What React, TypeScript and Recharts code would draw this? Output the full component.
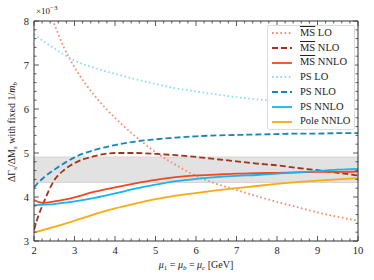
import { LineChart, Line, XAxis, YAxis, ReferenceArea, Label } from "recharts";

const FONT = "Liberation Serif, DejaVu Serif, serif";
const AXIS = "#333";

// mu values (GeV)
const mu = [2, 2.1, 2.25, 2.5, 2.75, 3, 3.5, 4, 4.5, 5, 5.5, 6, 6.5, 7, 7.5, 8, 8.5, 9, 9.5, 10];

// Delta Gamma_s / Delta M_s  (x 10^-3)
const msLO = [9.1, 8.85, 8.5, 7.93, 7.38, 6.95, 6.3, 5.8, 5.38, 5.02, 4.73, 4.48, 4.3, 4.16, 4.02, 3.89, 3.77, 3.65, 3.55, 3.46];
const msNLO = [3.25, 3.55, 3.9, 4.38, 4.62, 4.77, 4.93, 5.0, 5.0, 4.98, 4.95, 4.91, 4.86, 4.81, 4.76, 4.72, 4.66, 4.61, 4.55, 4.49];
const msNNLO = [3.93, 3.89, 3.87, 3.9, 3.94, 3.99, 4.12, 4.22, 4.31, 4.39, 4.45, 4.49, 4.51, 4.53, 4.54, 4.55, 4.56, 4.57, 4.57, 4.58];
const psLO = [7.7, 7.63, 7.53, 7.38, 7.23, 7.1, 6.93, 6.8, 6.68, 6.57, 6.47, 6.4, 6.33, 6.27, 6.22, 6.18, 6.15, 6.12, 6.1, 6.08];
const psNLO = [4.22, 4.32, 4.45, 4.62, 4.77, 4.9, 5.07, 5.18, 5.26, 5.31, 5.35, 5.38, 5.4, 5.41, 5.42, 5.43, 5.44, 5.44, 5.45, 5.45];
const psNNLO = [3.81, 3.82, 3.83, 3.84, 3.87, 3.9, 3.98, 4.08, 4.19, 4.28, 4.36, 4.41, 4.45, 4.48, 4.5, 4.53, 4.56, 4.59, 4.62, 4.64];
const poleNNLO = [3.2, 3.22, 3.26, 3.32, 3.39, 3.46, 3.61, 3.74, 3.85, 3.95, 4.03, 4.09, 4.15, 4.2, 4.25, 4.3, 4.34, 4.37, 4.4, 4.43];

// experimental band
const bandLow = 4.33;
const bandHigh = 4.91;

const minorTicks = (lo: number, hi: number) => {
  const out: number[] = [];
  for (let i = 0; i <= (hi - lo) * 5; i++) out.push(+(lo + i * 0.2).toFixed(2));
  return out;
};
const xTicks = minorTicks(2, 10);
const yTicks = minorTicks(3, 8);

const data = mu.map((x, i) => ({
  x,
  msLO: msLO[i],
  msNLO: msNLO[i],
  msNNLO: msNNLO[i],
  psLO: psLO[i],
  psNLO: psNLO[i],
  psNNLO: psNNLO[i],
  poleNNLO: poleNNLO[i],
}));

const series = [
  { key: "msLO", ms: true, name: "LO", color: "#f58a6c", dash: "1.6 2.6" },
  { key: "msNLO", ms: true, name: "NLO", color: "#a3311c", dash: "6 3" },
  { key: "msNNLO", ms: true, name: "NNLO", color: "#f2481b", dash: undefined },
  { key: "psLO", ms: false, name: "PS LO", color: "#8adcf8", dash: "1.6 2.6" },
  { key: "psNLO", ms: false, name: "PS NLO", color: "#1a84b8", dash: "6 3" },
  { key: "psNNLO", ms: false, name: "PS NNLO", color: "#16b4f0", dash: undefined },
  { key: "poleNNLO", ms: false, name: "Pole NNLO", color: "#fbaa10", dash: undefined },
];

const isMajor = (v: number) => Math.abs(v - Math.round(v)) < 1e-6;

const BottomTick = ({ x, y, payload }: any) => {
  const major = isMajor(payload.value);
  return (
    <g>
      <line x1={x} x2={x} y1={y} y2={y - (major ? 5 : 2.5)} stroke={AXIS} strokeWidth={0.8} />
      {major && (
        <text x={x} y={y + 13} textAnchor="middle" fontSize={10.5} fontFamily={FONT} fill="#222">
          {payload.value}
        </text>
      )}
    </g>
  );
};

const TopTick = ({ x, y, payload }: any) => {
  const major = isMajor(payload.value);
  return <line x1={x} x2={x} y1={y} y2={y + (major ? 5 : 2.5)} stroke={AXIS} strokeWidth={0.8} />;
};

const LeftTick = ({ x, y, payload }: any) => {
  const major = isMajor(payload.value);
  return (
    <g>
      <line x1={x} x2={x + (major ? 5 : 2.5)} y1={y} y2={y} stroke={AXIS} strokeWidth={0.8} />
      {major && (
        <text x={x - 5} y={y + 3.5} textAnchor="end" fontSize={10.5} fontFamily={FONT} fill="#222">
          {payload.value}
        </text>
      )}
    </g>
  );
};

const RightTick = ({ x, y, payload }: any) => {
  const major = isMajor(payload.value);
  return <line x1={x} x2={x - (major ? 5 : 2.5)} y1={y} y2={y} stroke={AXIS} strokeWidth={0.8} />;
};

const YTitle = () => (
  <g>
    <text
      transform="translate(15,132) rotate(-90)"
      textAnchor="middle"
      fontSize={10}
      fontFamily={FONT}
      fill="#222"
    >
      ΔΓ
      <tspan fontSize={7} dy={2}>s</tspan>
      <tspan dy={-2}>/ΔM</tspan>
      <tspan fontSize={7} dy={2} fontStyle="italic">s</tspan>
      <tspan dy={-2}> with fixed 1/</tspan>
      <tspan fontStyle="italic">m</tspan>
      <tspan fontSize={7} dy={2} fontStyle="italic">b</tspan>
    </text>
    <text x={36} y={14} fontSize={9} fontFamily={FONT} fill="#222">
      ×10
      <tspan fontSize={7} dy={-4}>−3</tspan>
    </text>
  </g>
);

const XTitle = () => (
  <text x={196} y={268} textAnchor="middle" fontSize={10} fontFamily={FONT} fill="#222">
    <tspan fontStyle="italic">μ</tspan>
    <tspan fontSize={7} dy={2}>1</tspan>
    <tspan dy={-2}> = </tspan>
    <tspan fontStyle="italic">μ</tspan>
    <tspan fontSize={7} dy={2} fontStyle="italic">b</tspan>
    <tspan dy={-2}> = </tspan>
    <tspan fontStyle="italic">μ</tspan>
    <tspan fontSize={7} dy={2} fontStyle="italic">c</tspan>
    <tspan dy={-2}> [GeV]</tspan>
  </text>
);

const LegendBox = () => (
  <div
    style={{
      position: "absolute",
      left: 267,
      top: 25,
      background: "rgba(255,255,255,0.85)",
      border: "1px solid #ddd",
      borderRadius: 2,
      padding: "0px 4px 0px 2px",
      fontFamily: FONT,
      fontSize: 10.5,
      color: "#222",
      lineHeight: "14.7px",
    }}
  >
    {series.map((s) => (
      <div key={s.key} style={{ display: "flex", alignItems: "center", whiteSpace: "nowrap" }}>
        <svg width={24} height={10} style={{ marginRight: 6 }}>
          <line x1={2} x2={22} y1={5} y2={5} stroke={s.color} strokeWidth={1.8} strokeDasharray={s.dash} />
        </svg>
        {s.ms ? (
          <span>
            <span style={{ textDecoration: "overline" }}>MS</span> {s.name}
          </span>
        ) : (
          <span>{s.name}</span>
        )}
      </div>
    ))}
  </div>
);

export default function App() {
  return (
    <div style={{ position: "absolute", left: 0, top: 0, width: 374, height: 280, background: "#fff" }}>
      <LineChart width={374} height={280} data={data} margin={{ top: 20, right: 15, bottom: 14, left: 0 }}>
        <XAxis
          dataKey="x"
          type="number"
          domain={[2, 10]}
          ticks={xTicks}
          interval={0}
          allowDataOverflow
          height={25}
          tickSize={0}
          tickMargin={0}
          tick={<BottomTick />}
          stroke={AXIS}
        />
        <XAxis
          xAxisId="top"
          orientation="top"
          dataKey="x"
          type="number"
          domain={[2, 10]}
          ticks={xTicks}
          interval={0}
          allowDataOverflow
          height={1}
          tickSize={0}
          tickMargin={0}
          tick={<TopTick />}
          stroke={AXIS}
        />
        <YAxis
          type="number"
          domain={[3, 8]}
          ticks={yTicks}
          interval={0}
          allowDataOverflow
          width={34}
          tickSize={0}
          tickMargin={0}
          tick={<LeftTick />}
          stroke={AXIS}
        >
          <Label content={<YTitle />} />
        </YAxis>
        <YAxis
          yAxisId="right"
          orientation="right"
          type="number"
          domain={[3, 8]}
          ticks={yTicks}
          interval={0}
          allowDataOverflow
          width={1}
          tickSize={0}
          tickMargin={0}
          tick={<RightTick />}
          stroke={AXIS}
        >
          <Label content={<XTitle />} />
        </YAxis>
        <ReferenceArea y1={bandLow} y2={bandHigh} fill="#e2e2e2" fillOpacity={1} stroke="#cfcfcf" strokeWidth={0.8} />
        {series.map((s) => (
          <Line
            key={s.key}
            dataKey={s.key}
            type="monotone"
            stroke={s.color}
            strokeWidth={1.8}
            strokeDasharray={s.dash}
            dot={false}
            activeDot={false}
            isAnimationActive={false}
          />
        ))}
      </LineChart>
      <LegendBox />
    </div>
  );
}
